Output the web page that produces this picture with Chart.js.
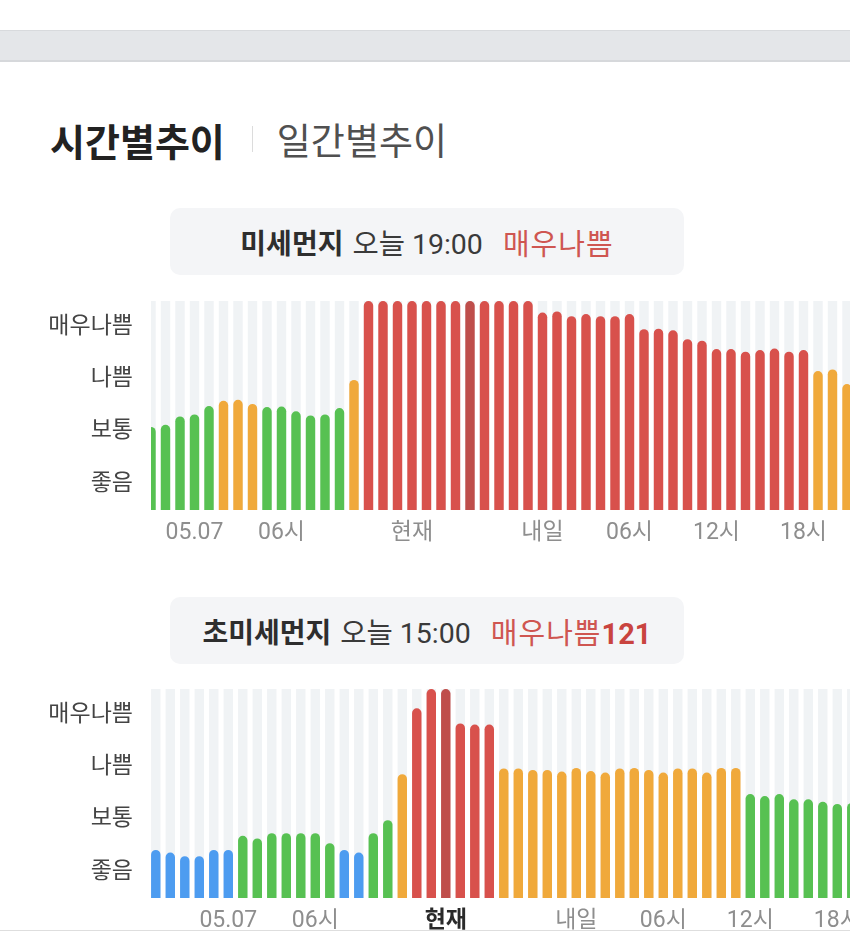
<!DOCTYPE html>
<html lang="ko">
<head>
<meta charset="utf-8">
<script src="https://cdn.jsdelivr.net/npm/chart.js@4"></script>
<style>
  html, body { margin: 0; padding: 0; background: #fff; }
  body { width: 850px; height: 938px; position: relative; overflow: hidden;
         font-family: Roboto, "Noto Sans CJK KR", sans-serif; }
  .band { position: absolute; left: 0; top: 30px; width: 850px; height: 29px;
          background: #e4e6e9; border-top: 1px solid #d8dadd; border-bottom: 2px solid #d6d8db; }
  .tabs { position: absolute; left: 50px; top: 112px; height: 54px; display: flex; align-items: center;
          font-family: "Noto Sans CJK KR", sans-serif; white-space: nowrap; }
  .tabs .on { font-size: 38px; font-weight: 700; color: #222; }
  .tabs .sep { width: 1px; height: 26px; background: #dcdcdc; margin: 0 24px 0 27px; }
  .tabs .off { font-size: 37px; font-weight: 400; color: #505050; }
  .pill { position: absolute; left: 170px; width: 514px; height: 67px; border-radius: 10px;
          background: #f4f5f7; display: flex; align-items: center; justify-content: center;
          font-size: 28px; color: #333; white-space: nowrap; }
  .pill b { font-family: "Noto Sans CJK KR", sans-serif; font-weight: 700; color: #2e2e2e; }
  .pill .t { margin-left: 9px; color: #3a3a3a; font-size: 28.5px; }
  .pill .g { margin-left: 20px; color: #cf5651; font-family: "Noto Sans CJK KR", sans-serif; font-size: 29px; letter-spacing: 1px; }
  .pill .g b { color: #c9443f; font-family: Roboto, sans-serif; letter-spacing: 0; }
  canvas { position: absolute; left: 0; }
  .bottom { position: absolute; left: 0; top: 930px; width: 850px; height: 8px; background: #fff;
            border-top: 1px solid #dedede; }
</style>
</head>
<body>
<div class="band"></div>
<div class="tabs"><span class="on">시간별추이</span><span class="sep"></span><span class="off">일간별추이</span></div>

<div class="pill" style="top:208px"><b>미세먼지</b><span class="t">오늘 19:00</span><span class="g">매우나쁨</span></div>
<canvas id="c1" width="850" height="260" style="top:290px"></canvas>

<div class="pill" style="top:597px"><b>초미세먼지</b><span class="t">오늘 15:00</span><span class="g">매우나쁨<b>121</b></span></div>
<canvas id="c2" width="850" height="258" style="top:680px"></canvas>

<div class="bottom"></div>

<script>
// Grade axis labels (bands: 좋음 0-1, 보통 1-2, 나쁨 2-3, 매우나쁨 3-4)
const gradeLabels = ['좋음', '보통', '나쁨', '매우나쁨'];
const gradeTicks = [0.5, 1.5, 2.5, 3.5];

// 미세먼지 hourly values (grade-scale units), first visible hour onward
const pm10Values = [
  1.59, 1.63, 1.79, 1.83, 1.99, 2.09, 2.11, 2.03, 1.97, 1.98,
  1.89, 1.81, 1.83, 1.95, 2.49, 4, 4, 4, 4, 4,
  4, 4, 4, 4, 4, 4, 4, 3.78, 3.80, 3.71,
  3.75, 3.71, 3.71, 3.75, 3.46, 3.47, 3.44, 3.27, 3.24, 3.08,
  3.08, 3.03, 3.06, 3.09, 3.03, 3.06, 2.66, 2.69, 2.41
];
const pm10Current = 22;
const pm10TickPos = [3, 9, 18, 27, 33, 39, 45];
const pm10TickLabels = ['05.07', '06시', '현재', '내일', '06시', '12시', '18시'];

// 초미세먼지 hourly values (grade-scale units)
const pm25Values = [
  0.92, 0.87, 0.80, 0.80, 0.92, 0.92, 1.19, 1.14, 1.24, 1.24,
  1.24, 1.24, 1.05, 0.92, 0.87, 1.24, 1.49, 2.37, 3.63, 4,
  4, 3.34, 3.32, 3.32, 2.48, 2.48, 2.45, 2.45, 2.42, 2.49,
  2.43, 2.40, 2.48, 2.49, 2.45, 2.40, 2.48, 2.48, 2.40, 2.49,
  2.49, 1.99, 1.95, 1.99, 1.89, 1.89, 1.84, 1.80, 1.82
];
const pm25Current = 20;
const pm25TickPos = [5, 11, 20, 29, 35, 41, 47];
const pm25TickLabels = ['05.07', '06시', '현재', '내일', '06시', '12시', '18시'];

const COLORS = { good: '#4d9cf0', normal: '#57c152', bad: '#f0a93b', vbad: '#d8514c', current: '#bf4e4b', stripe: '#f0f3f5' };
function gradeColor(v) {
  if (v < 1) return COLORS.good;
  if (v < 2) return COLORS.normal;
  if (v < 3) return COLORS.bad;
  return COLORS.vbad;
}
function zeroPad(s) { s.paddingLeft = 0; s.paddingRight = 0; s.paddingTop = 0; s.paddingBottom = 0; }

function makeChart(id, values, current, tickPos, tickLabels, xMin, padTop, boldNow) {
  const pts = values.map((v, i) => ({ x: i, y: v }));
  const stripes = values.map((v, i) => ({ x: i, y: 4 }));
  const colors = values.map((v, i) => i === current ? COLORS.current : gradeColor(v));
  const FONT = 'Roboto, "Noto Sans CJK KR", sans-serif';
  const nowIdx = tickLabels.indexOf('현재');
  return new Chart(document.getElementById(id), {
    type: 'bar',
    data: {
      datasets: [
        { data: pts, backgroundColor: colors, borderRadius: 5, borderSkipped: 'start',
          grouped: false, categoryPercentage: 1, barPercentage: 0.65, clip: 0 },
        { data: stripes, backgroundColor: COLORS.stripe, borderRadius: 0,
          grouped: false, categoryPercentage: 1, barPercentage: 0.65, clip: 0 }
      ]
    },
    options: {
      responsive: false, animation: false, devicePixelRatio: 1,
      layout: { autoPadding: false, padding: { top: padTop, left: 0, right: 0, bottom: 0 } },
      plugins: { legend: { display: false }, tooltip: { enabled: false } },
      scales: {
        x: {
          type: 'linear', offset: false, min: xMin, max: xMin + (850 - 151) / 14.5,
          grid: { display: false, drawTicks: false }, border: { display: false },
          afterBuildTicks: (s) => { s.ticks = tickPos.map(v => ({ value: v })); },
          afterFit: (s) => { s.height = 40; zeroPad(s); },
          ticks: {
            autoSkip: false, maxRotation: 0, padding: 9,
            callback: (v) => { const k = tickPos.indexOf(v); return k >= 0 ? tickLabels[k] : ''; },
            color: (ctx) => (boldNow && ctx.index === nowIdx) ? '#2a2a2a' : '#8e8e8e',
            font: (ctx) => ({ family: FONT, size: 23, weight: (boldNow && ctx.index === nowIdx) ? 'bold' : 'normal' })
          }
        },
        y: {
          type: 'linear', min: 0, max: 4,
          grid: { display: false, drawTicks: false }, border: { display: false },
          afterBuildTicks: (s) => { s.ticks = gradeTicks.map(v => ({ value: v })); },
          afterFit: (s) => { s.width = 151; zeroPad(s); },
          ticks: {
            padding: 18, color: '#444',
            font: { family: FONT, size: 23 },
            callback: (v) => { const k = gradeTicks.indexOf(v); return k >= 0 ? gradeLabels[k] : ''; }
          }
        }
      }
    }
  });
}

makeChart('c1', pm10Values, pm10Current, pm10TickPos, pm10TickLabels, 0, 11, false);
makeChart('c2', pm25Values, pm25Current, pm25TickPos, pm25TickLabels, -0.33, 9, true);
</script>
</body>
</html>
